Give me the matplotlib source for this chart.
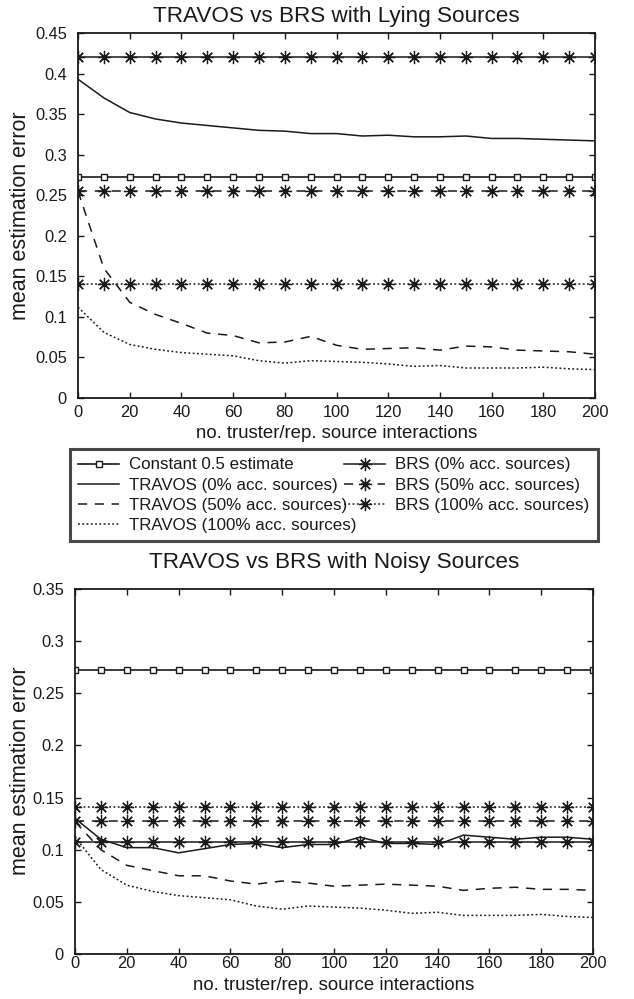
import matplotlib
matplotlib.use("Agg")
import matplotlib.pyplot as plt
import numpy as np

plt.rcParams['font.family'] = ['Liberation Sans', 'DejaVu Sans']

x = list(range(0, 201, 10))

# Lying sources
lying_const = [0.2725] * 21
lying_brs0 = [0.420] * 21
lying_brs50 = [0.255] * 21
lying_brs100 = [0.141] * 21
lying_trav0 = [0.393, 0.370, 0.352, 0.344, 0.339, 0.336, 0.333, 0.330, 0.329, 0.326, 0.326,
               0.323, 0.324, 0.322, 0.322, 0.323, 0.320, 0.320, 0.319, 0.318, 0.317]
lying_trav50 = [0.255, 0.160, 0.118, 0.103, 0.092, 0.080, 0.077, 0.068, 0.069, 0.076, 0.065,
                0.060, 0.061, 0.062, 0.059, 0.064, 0.063, 0.059, 0.058, 0.057, 0.054]
lying_trav100 = [0.112, 0.081, 0.066, 0.060, 0.056, 0.054, 0.052, 0.046, 0.043, 0.046, 0.045,
                 0.044, 0.042, 0.039, 0.040, 0.037, 0.037, 0.037, 0.038, 0.036, 0.035]

# Noisy sources
noisy_const = [0.2725] * 21
noisy_brs0 = [0.107] * 21
noisy_brs50 = [0.128] * 21
noisy_brs100 = [0.141] * 21
noisy_trav0 = [0.130, 0.110, 0.102, 0.102, 0.097, 0.101, 0.105, 0.106, 0.102, 0.105, 0.105,
               0.112, 0.106, 0.106, 0.105, 0.114, 0.112, 0.110, 0.112, 0.112, 0.110]
noisy_trav50 = [0.127, 0.100, 0.085, 0.080, 0.075, 0.075, 0.070, 0.067, 0.070, 0.068, 0.065,
                0.066, 0.067, 0.066, 0.065, 0.061, 0.063, 0.064, 0.062, 0.062, 0.061]
noisy_trav100 = [0.112, 0.081, 0.066, 0.060, 0.056, 0.054, 0.052, 0.046, 0.043, 0.046, 0.045,
                 0.044, 0.042, 0.039, 0.040, 0.037, 0.037, 0.037, 0.038, 0.036, 0.035]

labels = ["Constant 0.5 estimate", "TRAVOS (0% acc. sources)", "TRAVOS (50% acc. sources)",
          "TRAVOS (100% acc. sources)", "BRS (0% acc. sources)", "BRS (50% acc. sources)",
          "BRS (100% acc. sources)"]

W, H = 634, 999
fig = plt.figure(figsize=(W / 100, H / 100), dpi=100)

def rect(l, t, r, b):
    return [l / W, 1 - b / H, (r - l) / W, (b - t) / H]

ax1 = fig.add_axes(rect(78, 33, 595, 398))
ax2 = fig.add_axes(rect(75, 589, 593, 954))

k = '#1a1a1a'
dash = (0, (6, 5))
dot = (0, (1.2, 1.6))
star = (8, 2, 0)

def draw(ax, const, t0, t50, t100, b0, b50, b100, xpad, lpad, ycenter):
    hs = []
    hs.append(ax.plot(x, const, color=k, lw=1.2, marker='s', ms=3.8, mfc='white', mec=k, mew=1.0)[0])
    hs.append(ax.plot(x, t0, color=k, lw=1.1, ls='-')[0])
    hs.append(ax.plot(x, t50, color=k, lw=1.1, ls=dash)[0])
    hs.append(ax.plot(x, t100, color=k, lw=1.1, ls=dot)[0])
    hs.append(ax.plot(x, b0, color=k, lw=1.1, ls='-', marker=star, ms=9.5, mew=0.9)[0])
    hs.append(ax.plot(x, b50, color=k, lw=1.1, ls=dash, marker=star, ms=9.5, mew=0.9)[0])
    hs.append(ax.plot(x, b100, color=k, lw=1.1, ls=dot, marker=star, ms=9.5, mew=0.9)[0])
    ax.set_xlim(0, 200)
    ax.set_xticks(range(0, 201, 20))
    ax.tick_params(direction='in', top=True, right=True, length=4, width=1, labelsize=11.8,
                   colors=k)
    ax.tick_params(axis='x', pad=xpad)
    ax.tick_params(axis='y', pad=8)
    for s in ax.spines.values():
        s.set_linewidth(1.3)
        s.set_color(k)
    ax.set_xlabel("no. truster/rep. source interactions", fontsize=13.4, color=k, labelpad=lpad)
    ax.set_ylabel("mean estimation error", fontsize=15.5, color=k)
    ax.yaxis.set_label_coords(31 / W, ycenter, transform=fig.transFigure)
    return hs

hs = draw(ax1, lying_const, lying_trav0, lying_trav50, lying_trav100,
          lying_brs0, lying_brs50, lying_brs100, 5, 4, 1 - 216 / H)
ax1.set_ylim(0, 0.45)
ax1.set_yticks(np.arange(0, 0.451, 0.05))
ax1.set_yticklabels(["0", "0.05", "0.1", "0.15", "0.2", "0.25", "0.3", "0.35", "0.4", "0.45"])
ax1.set_title("TRAVOS vs BRS with Lying Sources", fontsize=16.2, color=k, pad=8)

draw(ax2, noisy_const, noisy_trav0, noisy_trav50, noisy_trav100,
     noisy_brs0, noisy_brs50, noisy_brs100, 1.5, 4, 1 - 771 / H)
ax2.set_ylim(0, 0.35)
ax2.set_yticks(np.arange(0, 0.351, 0.05))
ax2.set_yticklabels(["0", "0.05", "0.1", "0.15", "0.2", "0.25", "0.3", "0.35"])
ax2.set_title("TRAVOS vs BRS with Noisy Sources", fontsize=16.2, color=k, pad=15)

leg = fig.legend(hs, labels, ncol=2, loc='upper left',
                 bbox_to_anchor=(70 / W, 1 - 542 / H, (598 - 70) / W, (542 - 449) / H),
                 mode='expand', fontsize=12.2, frameon=True, fancybox=False, edgecolor=k,
                 handlelength=2.4, handletextpad=0.6, borderpad=0.5, labelspacing=0.3,
                 columnspacing=1.0, borderaxespad=0.0)
leg.get_frame().set_linewidth(2.2)
for t in leg.get_texts():
    t.set_color(k)

fig.savefig("out.png", dpi=100)
